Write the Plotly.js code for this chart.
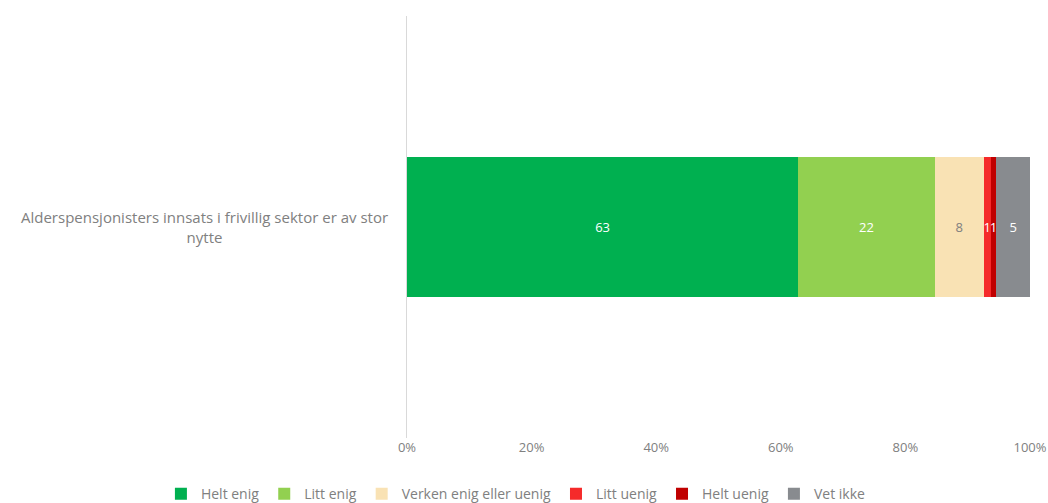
<!DOCTYPE html>
<html>
<head>
<meta charset="utf-8">
<script src="https://cdn.plot.ly/plotly-3.0.1.min.js"></script>
<style>html,body{margin:0;padding:0;background:#fff;}#chart{width:1048px;height:503px;}</style>
</head>
<body>
<div id="chart"></div>
<script>
const categories = ["Alderspensjonisters innsats i frivillig sektor er av stor<br>nytte"];
const seriesNames = ["Helt enig", "Litt enig", "Verken enig eller uenig", "Litt uenig", "Helt uenig", "Vet ikke"];
const seriesValues = [62.8, 21.9, 7.9, 1.1, 0.9, 5.4];
const seriesLabels = ["63", "22", "8", "1", "1", "5"];
const seriesColors = ["#00B050", "#92D050", "#F9E2B4", "#F52A2A", "#C00000", "#888B8F"];
const labelColors = ["#ffffff", "#ffffff", "#808080", "#ffffff", "#ffffff", "#ffffff"];
const xTickVals = [0, 20, 40, 60, 80, 100];
const xTickText = ["0%", "20%", "40%", "60%", "80%", "100%"];

const FONT = "'Open Sans', 'Noto Sans', sans-serif";

const traces = seriesNames.map((name, i) => ({
  type: "bar",
  orientation: "h",
  name: name,
  y: [categories[0]],
  x: [seriesValues[i]],
  text: [seriesLabels[i]],
  textposition: "inside",
  insidetextanchor: "middle",
  textangle: 0,
  textfont: {color: labelColors[i], size: 13, family: FONT},
  marker: {color: seriesColors[i], line: {width: 0}},
  hoverinfo: "name+x"
}));

const layout = {
  width: 1048,
  height: 503,
  margin: {l: 407, r: 18, t: 16, b: 65, autoexpand: false},
  barmode: "stack",
  bargap: 0.666,
  paper_bgcolor: "#ffffff",
  plot_bgcolor: "#ffffff",
  font: {family: FONT, color: "#808080", size: 12},
  uniformtext: {mode: "show", minsize: 13},
  xaxis: {
    range: [0, 100],
    tickvals: xTickVals,
    ticktext: xTickText,
    showgrid: false,
    zeroline: false,
    showline: false,
    ticks: "",
    tickfont: {size: 13, color: "#808080", family: FONT},
    fixedrange: true
  },
  yaxis: {
    showticklabels: false,
    showgrid: false,
    zeroline: false,
    showline: true,
    linecolor: "#d9d9d9",
    linewidth: 1,
    ticks: "",
    range: [-0.5, 0.5],
    fixedrange: true
  },
  showlegend: true,
  legend: {
    orientation: "h",
    xref: "paper",
    yref: "paper",
    x: -0.395,
    xanchor: "left",
    y: -0.133,
    yanchor: "middle",
    font: {size: 14, color: "#808080", family: FONT},
    traceorder: "normal",
    itemwidth: 30
  },
  annotations: [{
    xref: "paper",
    yref: "y",
    x: -0.027,
    y: categories[0],
    xanchor: "right",
    yanchor: "middle",
    align: "center",
    showarrow: false,
    text: categories[0],
    font: {size: 15, color: "#808080", family: FONT}
  }]
};

Plotly.newPlot("chart", traces, layout, {displayModeBar: false, staticPlot: true});
</script>
</body>
</html>
